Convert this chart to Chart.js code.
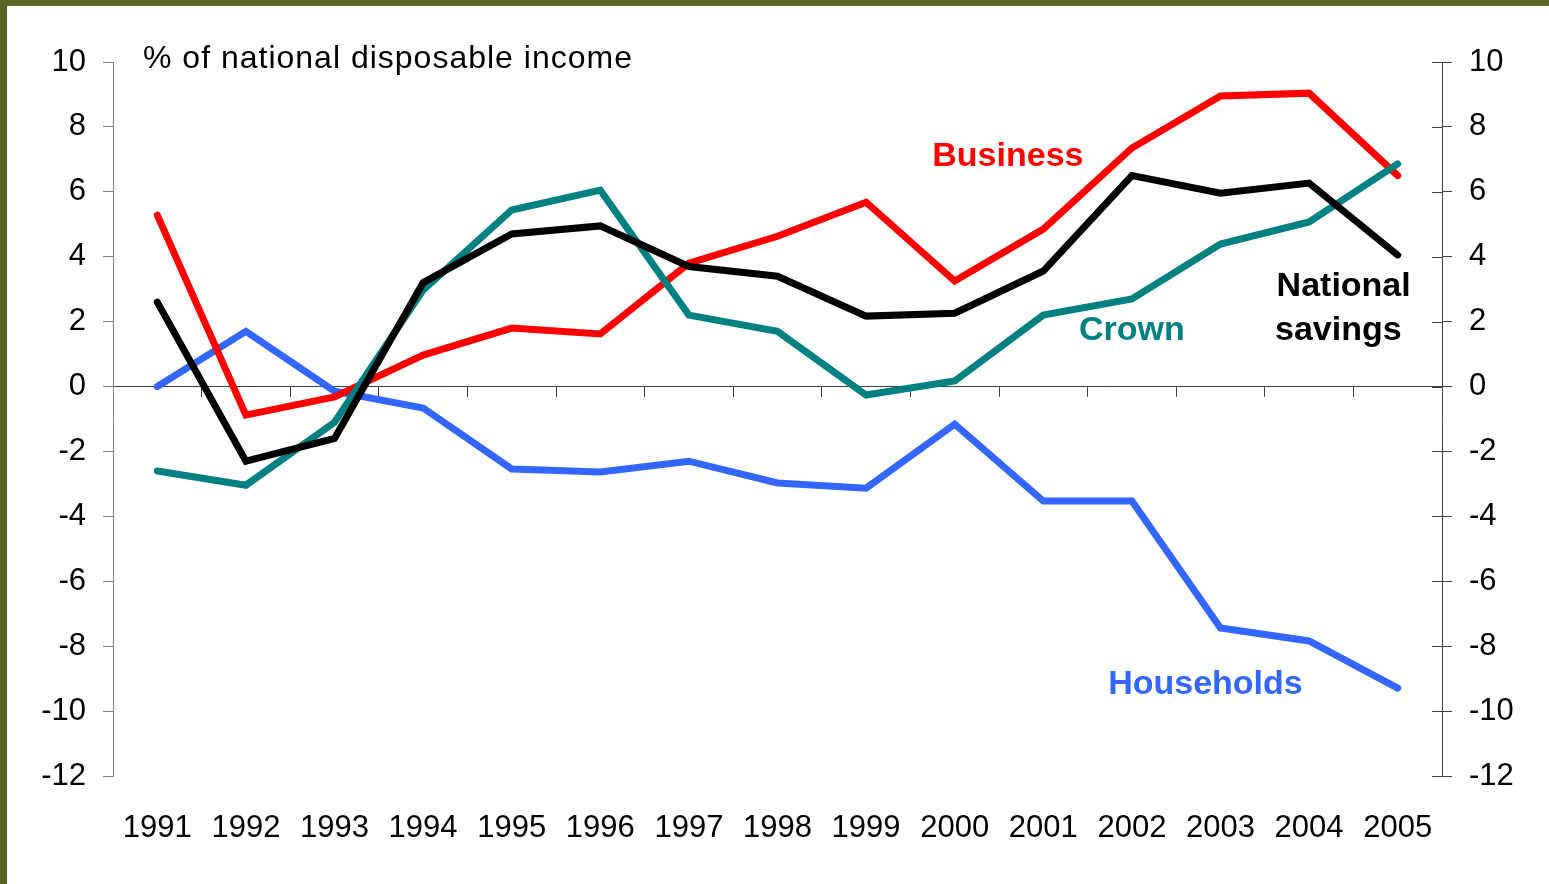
<!DOCTYPE html>
<html>
<head>
<meta charset="utf-8">
<script src="https://cdn.jsdelivr.net/npm/chart.js@4.4.1/dist/chart.umd.min.js"></script>
<style>
  html, body { margin: 0; padding: 0; background: #fff; }
  #frame { width: 1542px; height: 878px; border-top: 6px solid #5b6424; border-left: 7px solid #5b6424; }
  canvas { display: block; }
</style>
</head>
<body>
<div id="frame"><canvas id="savings" width="1542" height="878"></canvas></div>
<script>
  var years = ["1991","1992","1993","1994","1995","1996","1997","1998","1999","2000","2001","2002","2003","2004","2005"];
  var national   = [2.6, -2.3, -1.6, 3.2, 4.7, 4.95, 3.7, 3.4, 2.17, 2.26, 3.56, 6.5, 5.96, 6.27, 4.05];
  var business   = [5.28, -0.88, -0.32, 0.97, 1.8, 1.62, 3.8, 4.63, 5.68, 3.25, 4.85, 7.35, 8.95, 9.04, 6.5];
  var crown      = [-2.6, -3.04, -1.1, 2.97, 5.44, 6.05, 2.2, 1.7, -0.26, 0.17, 2.2, 2.7, 4.39, 5.07, 6.86];
  var households = [0, 1.7, -0.14, -0.66, -2.54, -2.63, -2.3, -2.97, -3.13, -1.16, -3.53, -3.53, -7.44, -7.84, -9.29];

  var font = "'Liberation Sans', Arial, sans-serif";

  // text labels on the plot: [text, category index, value, colour]
  var notes = [
    ["Business", 9.6, 7.07, "#ff0000"],
    ["Crown", 11.0, 1.71, "#008080"],
    ["National", 13.39, 3.07, "#000000"],
    ["savings", 13.33, 1.71, "#000000"],
    ["Households", 11.83, -9.17, "#3366ff"]
  ];

  var notesPlugin = {
    id: "notes",
    afterDraw: function(chart) {
      var ctx = chart.ctx;
      var xs = chart.scales.x, ys = chart.scales.y, y2 = chart.scales.y2;
      ctx.save();
      // inner half of the right axis ticks
      ctx.strokeStyle = "#404040";
      ctx.lineWidth = 1;
      for (var v = -12; v <= 10; v += 2) {
        var py = Math.round(y2.getPixelForValue(v)) + 0.5;
        ctx.beginPath();
        ctx.moveTo(chart.chartArea.right - 10, py);
        ctx.lineTo(chart.chartArea.right, py);
        ctx.stroke();
      }
      ctx.textBaseline = "middle";
      ctx.textAlign = "left";
      ctx.fillStyle = "#000";
      ctx.font = "32px " + font;
      ctx.letterSpacing = "1px";
      ctx.fillText("% of national disposable income", chart.chartArea.left + 30, ys.getPixelForValue(10.1));
      ctx.letterSpacing = "0px";
      ctx.textAlign = "center";
      ctx.font = "bold 34px " + font;
      notes.forEach(function(n) {
        ctx.fillStyle = n[3];
        ctx.fillText(n[0], xs.getPixelForValue(n[1]), ys.getPixelForValue(n[2]));
      });
      ctx.restore();
    }
  };

  function line(label, data, colour) {
    return {
      label: label,
      data: data,
      borderColor: colour,
      backgroundColor: colour,
      borderWidth: 7,
      pointRadius: 0,
      tension: 0,
      borderCapStyle: "round",
      fill: false
    };
  }

  var chart = new Chart(document.getElementById("savings"), {
    type: "line",
    data: {
      labels: years,
      datasets: [
        line("National savings", national, "#000000"),
        line("Crown", crown, "#008080"),
        line("Business", business, "#ff0000"),
        line("Households", households, "#3366ff")
      ]
    },
    options: {
      responsive: false,
      animation: false,
      layout: { padding: { top: 56, left: 0, right: 0, bottom: 0 } },
      plugins: { legend: { display: false }, tooltip: { enabled: false } },
      scales: {
        x: {
          type: "category",
          offset: true,
          grid: { display: false, drawTicks: false },
          border: { display: false },
          ticks: { color: "#000", padding: 34, maxRotation: 0, autoSkip: false, font: { family: font, size: 31 } },
          afterFit: function(s) { s.height = 108; }
        },
        x0: {
          type: "category",
          labels: years,
          offset: true,
          position: { y: 0 },
          grid: { offset: true, drawOnChartArea: false, tickLength: 10, color: "#404040" },
          border: { display: true, color: "#404040" },
          ticks: { display: false }
        },
        y: {
          position: "left",
          min: -12,
          max: 10,
          ticks: { stepSize: 2, color: "#000", padding: 17, font: { family: font, size: 31 } },
          grid: { drawOnChartArea: false, tickLength: 10, color: "#808080" },
          border: { display: true, color: "#808080" },
          afterFit: function(s) { s.width = 106; }
        },
        y2: {
          position: "right",
          min: -12,
          max: 10,
          ticks: { stepSize: 2, color: "#000", padding: 17, font: { family: font, size: 31 } },
          grid: { drawOnChartArea: false, tickLength: 10, color: "#404040" },
          border: { display: true, color: "#404040" },
          afterFit: function(s) { s.width = 107; }
        }
      }
    },
    plugins: [notesPlugin]
  });
</script>
</body>
</html>
